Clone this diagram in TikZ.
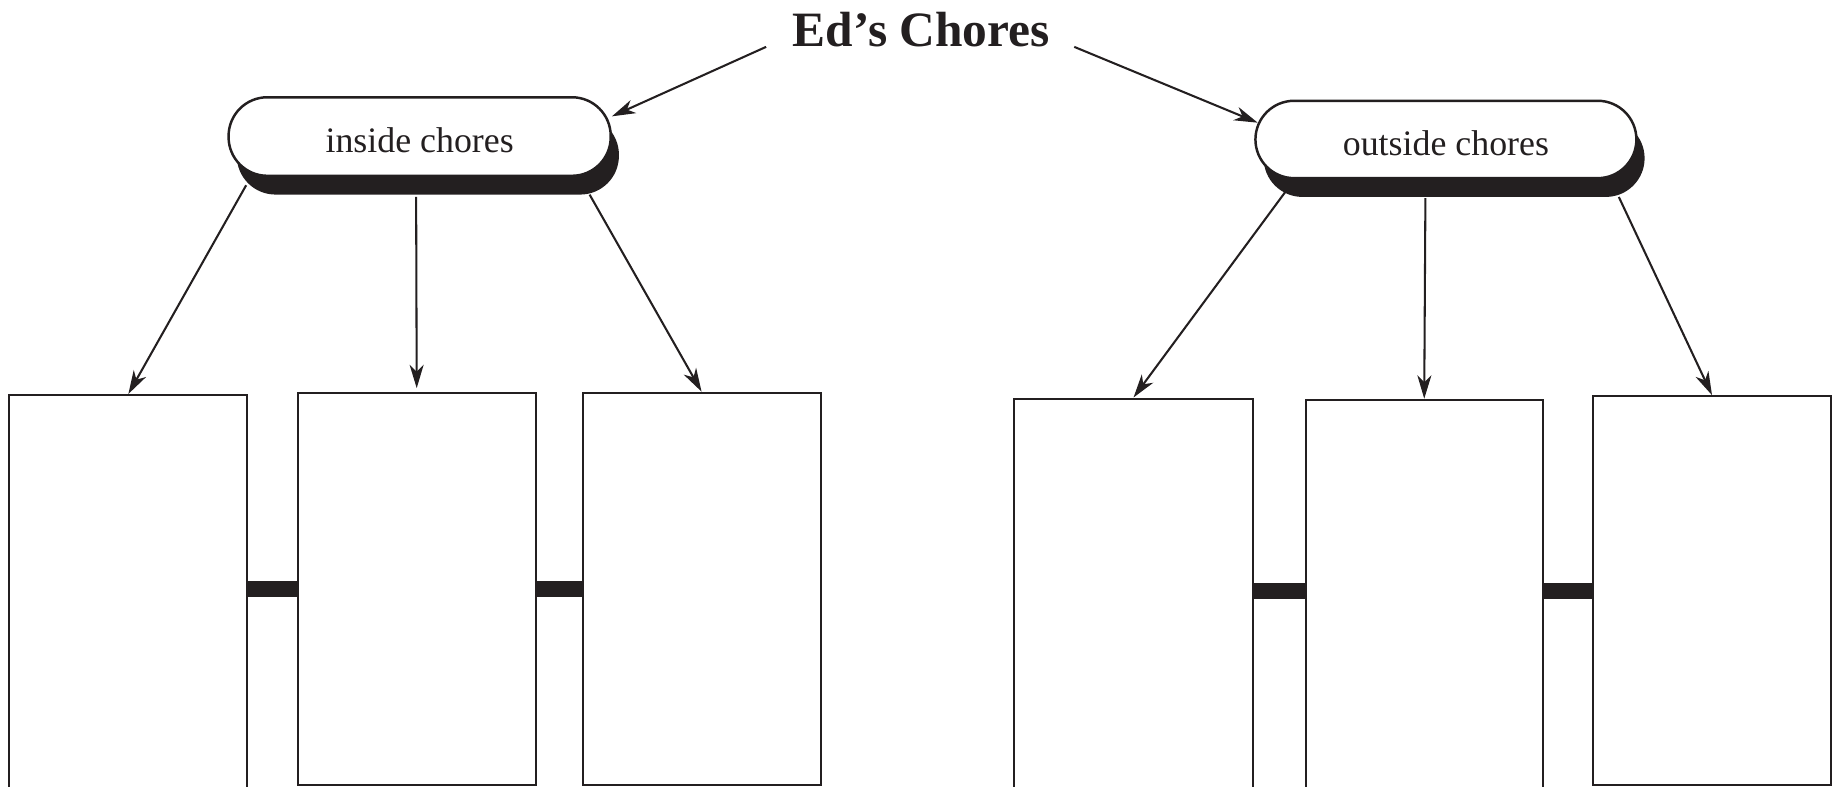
\documentclass[tikz,border=0pt]{standalone}
\usepackage{fontspec}
\setmainfont{Liberation Serif}
\usetikzlibrary{arrows.meta,shadows}
\definecolor{ink}{RGB}{35,31,32}

\begin{document}
\begin{tikzpicture}[line width=0.5pt,>={Stealth[length=2mm,width=1.2mm,inset=0.6mm]},ink,
  pill/.style={draw=ink,line width=0.6pt,fill=white,rounded corners=0.33cm,minimum width=3.26cm,minimum height=0.67cm,inner sep=0pt,
    text height=8pt,font=\fontsize{8.7}{10}\selectfont,drop shadow={shadow xshift=0.07cm,shadow yshift=-0.16cm,fill=ink,opacity=1}},
  chorebox/.style={draw=ink,line width=0.5pt,fill=white,minimum width=2.03cm,inner sep=0pt},
  link/.style={draw=ink,line width=0.135cm},
  arr/.style={->,draw=ink}]
  \useasboundingbox (0,0) rectangle (15.68,-6.71);
  % titulo y categorias
  \node[font=\fontsize{12}{14}\bfseries\selectfont,inner sep=0pt,anchor=base] (title) at (7.86,-0.40){Ed’s Chores};
  \node[pill] (inside) at (3.58,-1.165){inside chores};
  \node[pill,minimum width=3.25cm,minimum height=0.66cm] (outside) at (12.335,-1.19){outside chores};
  % cajas
  \node[chorebox,minimum height=3.63cm] (box1) at (1.095,-5.185){};
  \node[chorebox,minimum height=3.347cm] (box2) at (3.555,-5.0235){};
  \node[chorebox,minimum height=3.347cm] (box3) at (5.985,-5.0235){};
  \node[chorebox,minimum width=2.04cm,minimum height=3.6cm] (box4) at (9.67,-5.2){};
  \node[chorebox,minimum width=2.02cm,minimum height=3.59cm] (box5) at (12.15,-5.205){};
  \node[chorebox,minimum height=3.32cm] (box6) at (14.605,-5.04){};
  % uniones
  \draw[link] (box2.west) -- (box2.west -| box1.east);
  \draw[link] (box2.east) -- (box3.west);
  \draw[link] (box4.east |- box6.west) -- (box5.west |- box6.west);
  \draw[link] (box6.west) -- (box6.west -| box5.east);
  % flechas
  \draw[arr] ([xshift=-0.22cm]title.base west) -- (inside.6);
  \draw[arr] ([xshift=0.20cm]title.base east) -- ([xshift=0.03cm]outside.175);
  \draw[arr] ([shift={(-1.48,-0.07)}]inside.south) -- (box1.north);
  \draw[arr,shorten >=0.03cm] ([shift={(-0.03,-0.17)}]inside.south) -- (box2.north);
  \draw[arr] ([shift={(1.45,-0.15)}]inside.south) -- (box3.north);
  \draw[arr] ([shift={(-1.365,-0.10)}]outside.south) -- (box4.north);
  \draw[arr] ([shift={(-0.175,-0.16)}]outside.south) -- (box5.north);
  \draw[arr] ([shift={(1.475,-0.15)}]outside.south) -- (box6.north);
\end{tikzpicture}
\end{document}
